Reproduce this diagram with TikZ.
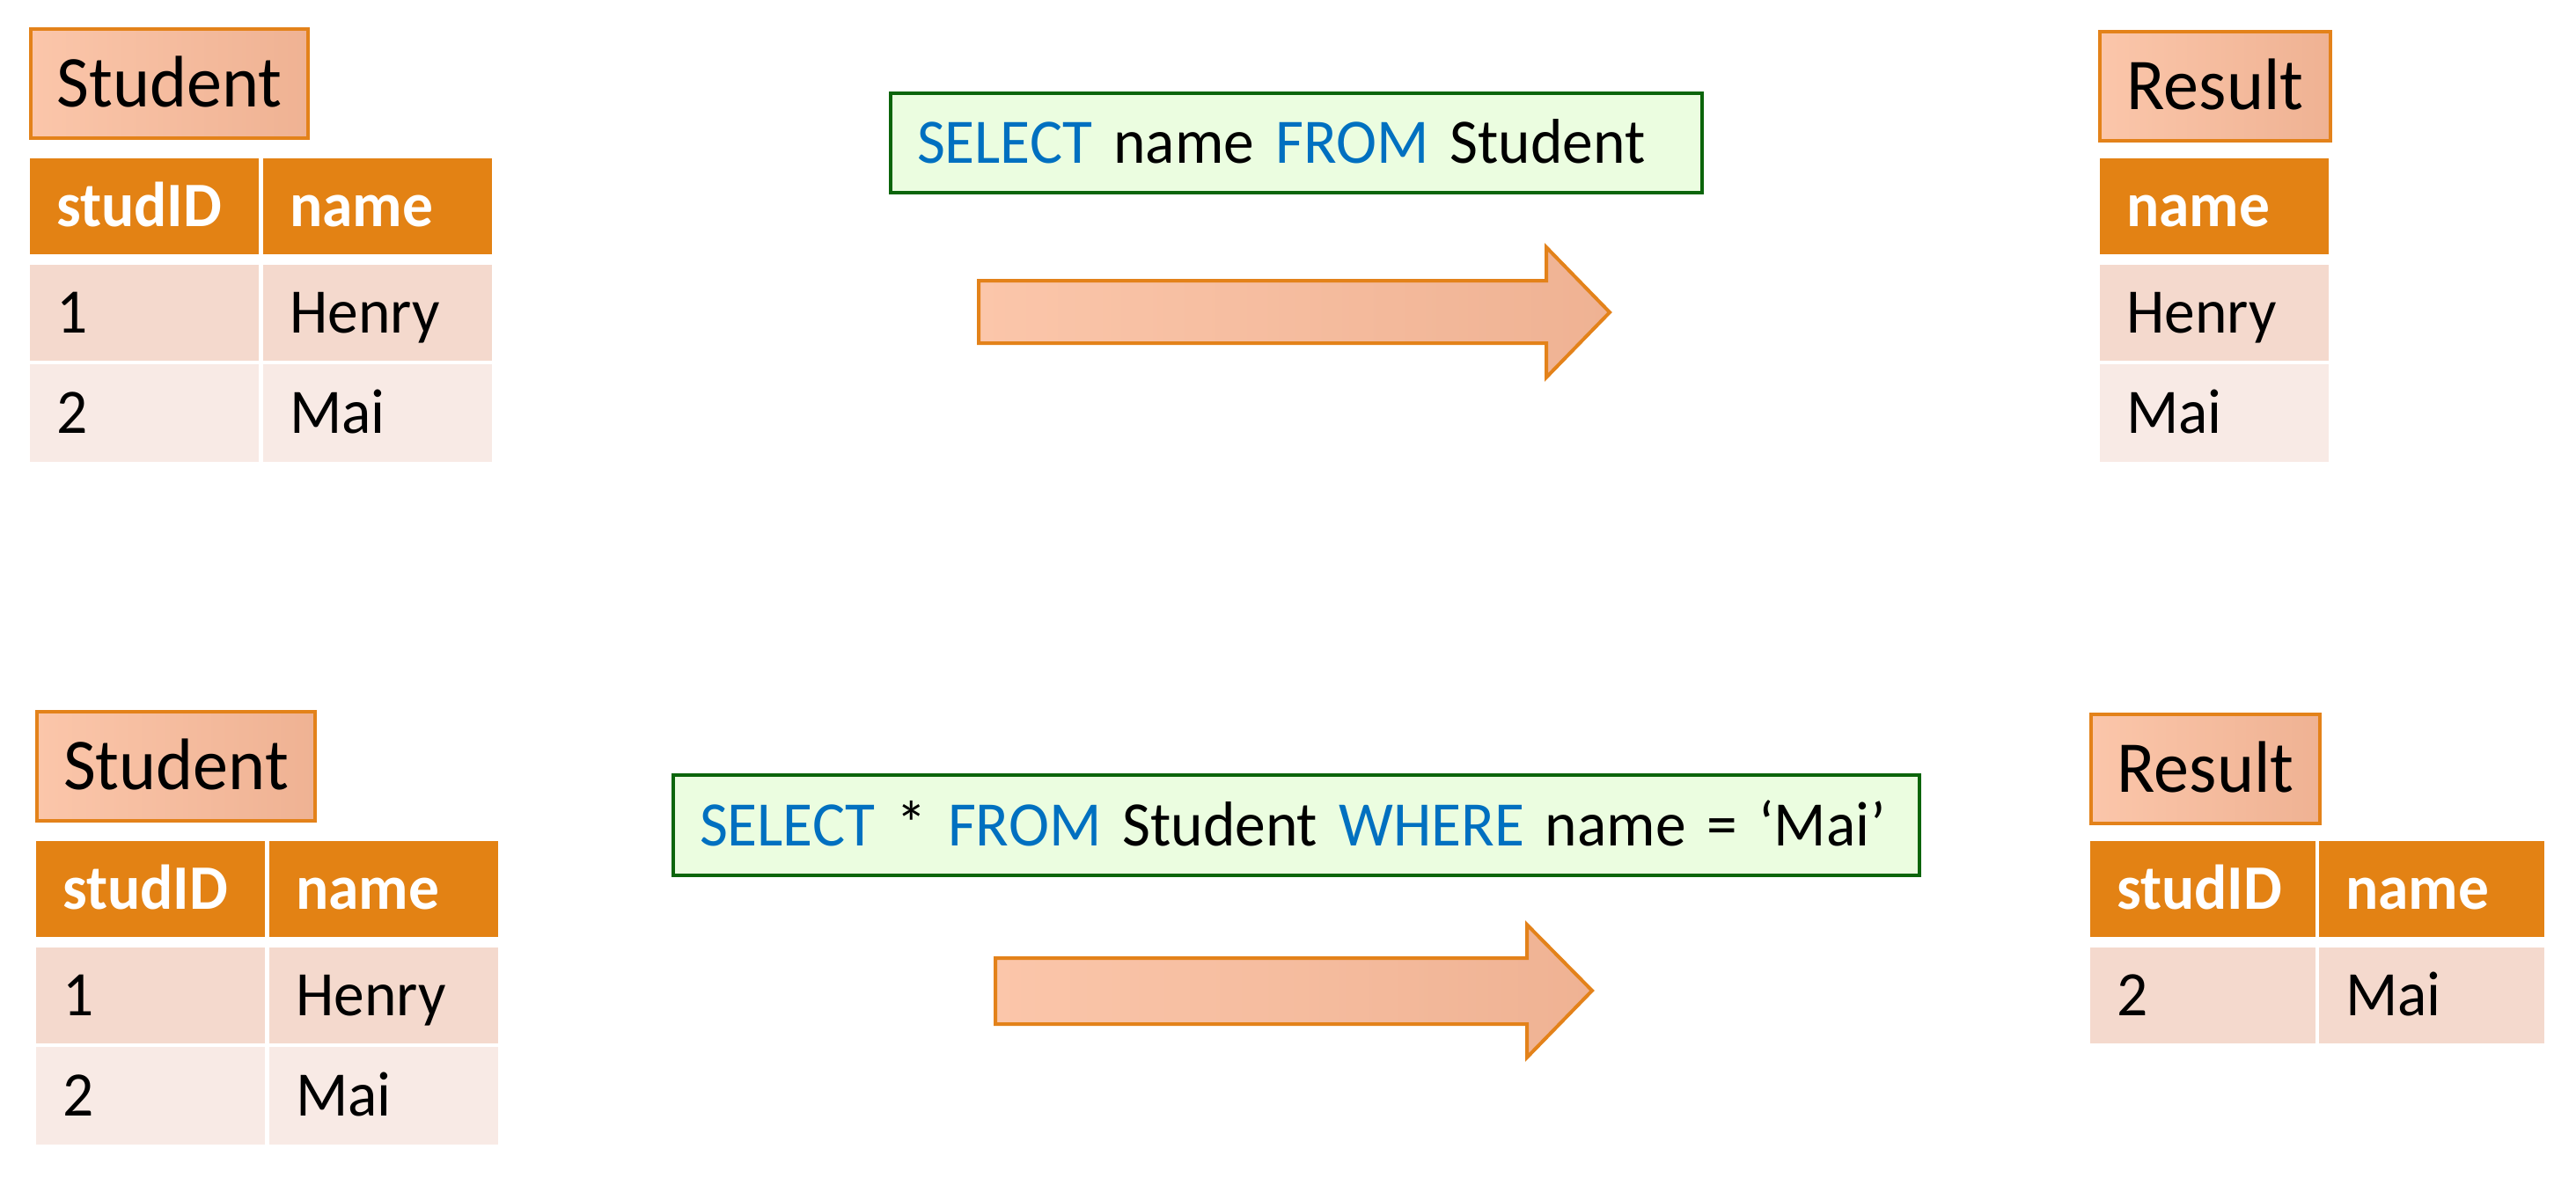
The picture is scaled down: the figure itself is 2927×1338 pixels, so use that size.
\documentclass[tikz,border=0pt]{standalone}
\usepackage{fontspec}
\setmainfont{Carlito}[FakeStretch=0.965]

\definecolor{hdrorange}{HTML}{E38214}
\definecolor{rowdark}{HTML}{F4D9CD}
\definecolor{rowlight}{HTML}{F8EAE5}
\definecolor{peachlight}{HTML}{FBC6AA}
\definecolor{peachdark}{HTML}{EFB293}
\definecolor{boxorange}{HTML}{E3821A}
\definecolor{sqlfill}{HTML}{EBFDE0}
\definecolor{sqlborder}{HTML}{0B650B}
\definecolor{keyblue}{HTML}{0070C0}

\newcommand{\kw}[1]{{\color{keyblue}#1}}

\begin{document}
\begin{tikzpicture}[x=1pt, y=-1pt,
    tablename/.style={draw=boxorange, line width=4pt, left color=peachlight, right color=peachdark,
        inner sep=0pt, minimum height=124pt, anchor=north west,
        font=\fontsize{83}{90}\selectfont, text height=53pt, text depth=0pt},
    query/.style={draw=sqlborder, line width=4pt, fill=sqlfill, inner xsep=30pt, inner ysep=0pt,
        align=left, anchor=north west, font=\fontsize{72}{80}\selectfont,
        text height=46pt, text depth=0pt},
    cell/.style={text width=200pt, inner xsep=30pt, inner ysep=0pt, align=left, anchor=north west,
        font=\fontsize{72}{80}\selectfont, text height=46pt, text depth=0pt},
    hcell/.style={cell, fill=hdrorange, text=white, font=\fontsize{72}{80}\selectfont\bfseries,
        minimum height=109pt},
    rcell/.style={cell, fill=rowdark, minimum height=109pt},
    lcell/.style={cell, fill=rowlight, minimum height=111pt},
    bigarrow/.style={draw=boxorange, line width=4pt, left color=peachlight, right color=peachdark}]

    \useasboundingbox (0,0) rectangle (2927,1338);

    % first query: projection
    \node[tablename, minimum width=315pt] (stuA) at (33,31) {Student};
    \node[hcell] (stuAid) at (34,180) {studID};
    \node[hcell] (stuAname) at (299,180) {name};
    \node[rcell] (stuAid1) at (34,301) {1};
    \node[rcell] (stuAname1) at (299,301) {Henry};
    \node[lcell] (stuAid2) at (34,414) {2};
    \node[lcell] (stuAname2) at (299,414) {Mai};

    \node[query, text width=862pt, minimum height=113pt] (qA) at (1010,104)
        {\kw{SELECT} name \kw{FROM} Student};

    \draw[bigarrow] (1112,319) -- (1757,319) -- (1757,281) -- (1829,355)
        -- (1757,429) -- (1757,390) -- (1112,390) -- cycle;

    \node[tablename, minimum width=262pt] (resA) at (2384,34) {Result};
    \node[hcell] (resAname) at (2386,180) {name};
    \node[rcell] (resAname1) at (2386,301) {Henry};
    \node[lcell] (resAname2) at (2386,414) {Mai};

    % second query: selection
    \node[tablename, minimum width=316pt] (stuB) at (40,807) {Student};
    \node[hcell] (stuBid) at (41,956) {studID};
    \node[hcell] (stuBname) at (306,956) {name};
    \node[rcell] (stuBid1) at (41,1077) {1};
    \node[rcell] (stuBname1) at (306,1077) {Henry};
    \node[lcell] (stuBid2) at (41,1190) {2};
    \node[lcell] (stuBname2) at (306,1190) {Mai};

    \node[query, text width=1356pt, minimum height=114pt] (qB) at (763,879)
        {\kw{SELECT} * \kw{FROM} Student \kw{WHERE} name = ‘Mai’};

    \draw[bigarrow] (1131,1089) -- (1735,1089) -- (1735,1051) -- (1809,1126)
        -- (1735,1202) -- (1735,1164) -- (1131,1164) -- cycle;

    \node[tablename, minimum width=260pt] (resB) at (2374,810) {Result};
    \node[hcell, text width=196pt] (resBid) at (2375,956) {studID};
    \node[hcell, text width=196pt] (resBname) at (2635,956) {name};
    \node[rcell, text width=196pt] (resBid1) at (2375,1077) {2};
    \node[rcell, text width=196pt] (resBname1) at (2635,1077) {Mai};

\end{tikzpicture}
\end{document}
